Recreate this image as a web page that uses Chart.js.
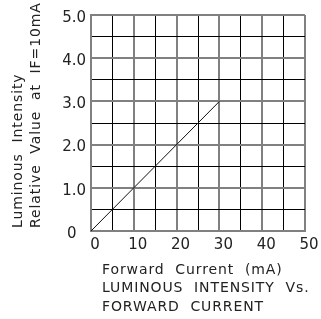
<!DOCTYPE html>
<html>
<head>
<meta charset="utf-8">
<script src="https://cdn.jsdelivr.net/npm/chart.js@4/dist/chart.umd.min.js"></script>
<style>
  html, body { margin: 0; padding: 0; background: #fff; }
  canvas { display: block; }
</style>
</head>
<body>
<canvas id="grafico" width="321" height="319"></canvas>
<script>
// data
const corrente = [0, 30];          // forward current, mA
const intensidade = [0, 3.0];      // relative luminous intensity
const xTicks = [0, 10, 20, 30, 40, 50];
const yTicks = [0, 1, 2, 3, 4, 5];
const tituloY = ['Luminous  Intensity', 'Relative  Value  at  IF=10mA'];
const tituloX = ['Forward  Current  (mA)', 'LUMINOUS  INTENSITY  Vs.', 'FORWARD  CURRENT'];

const fonte = '"DejaVu Sans", "Liberation Sans", sans-serif';
const corTexto = '#222';
const corMaior = '#808080';

const titulos = {
    id: 'titulos',
    afterDraw(chart) {
        const ctx = chart.ctx;
        const area = chart.chartArea;
        ctx.save();
        ctx.fillStyle = corTexto;
        ctx.font = '14px ' + fonte;
        ctx.letterSpacing = '0.9px';
        ctx.textAlign = 'left';
        ctx.textBaseline = 'middle';
        tituloX.forEach((t, i) => {
            ctx.fillText(t, area.left + 11, area.bottom + 39 + i * 18.5);
        });
        ctx.translate(18, area.bottom - 3);
        ctx.rotate(-Math.PI / 2);
        tituloY.forEach((t, i) => {
            ctx.fillText(t, 0, i * 18);
        });
        ctx.restore();
    }
};

const grafico = new Chart(document.getElementById('grafico').getContext('2d'), {
    type: 'line',
    data: {
        datasets: [{
            data: corrente.map((x, i) => ({ x: x, y: intensidade[i] })),
            borderColor: '#111',
            borderWidth: 1,
            pointRadius: 0,
            fill: false
        }]
    },
    options: {
        responsive: false,
        animation: false,
        layout: { padding: { top: 15, right: 16, left: 0, bottom: 0 } },
        plugins: {
            legend: { display: false },
            tooltip: { enabled: false }
        },
        scales: {
            x: {
                type: 'linear',
                min: 0,
                max: 50,
                afterFit(scale) { scale.height = 88; },
                ticks: {
                    stepSize: 5,
                    autoSkip: false,
                    maxRotation: 0,
                    padding: 5,
                    labelOffset: 4,
                    color: corTexto,
                    font: { family: fonte, size: 15 },
                    callback: v => xTicks.includes(v) ? String(v) : ''
                },
                grid: {
                    drawTicks: false,
                    color: c => xTicks.includes(c.tick.value) ? corMaior : '#000',
                    lineWidth: c => xTicks.includes(c.tick.value) ? 2 : 1
                },
                border: { color: corMaior, width: 2 }
            },
            y: {
                min: 0,
                max: 5,
                afterFit(scale) { scale.width = 91; },
                ticks: {
                    stepSize: 0.5,
                    autoSkip: false,
                    padding: 5,
                    labelOffset: 3,
                    color: corTexto,
                    font: { family: fonte, size: 15 },
                    callback: v => v === 0 ? '0  ' : (yTicks.includes(v) ? v.toFixed(1) : '')
                },
                grid: {
                    drawTicks: false,
                    color: c => yTicks.includes(c.tick.value) ? corMaior : '#000',
                    lineWidth: c => yTicks.includes(c.tick.value) ? 2 : 1
                },
                border: { color: corMaior, width: 2 }
            }
        }
    },
    plugins: [titulos]
});
</script>
</body>
</html>
